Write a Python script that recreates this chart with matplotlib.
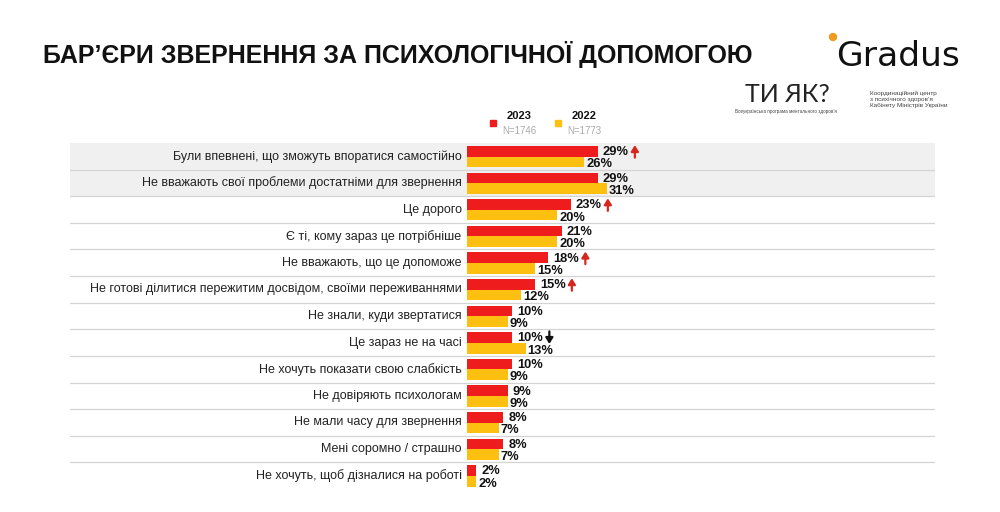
import matplotlib
matplotlib.use("Agg")
import matplotlib.pyplot as plt
from matplotlib.patches import Rectangle, Ellipse

plt.rcParams['font.family'] = ['Liberation Sans', 'DejaVu Sans']

categories = [
    "Були впевнені, що зможуть впоратися самостійно",
    "Не вважають свої проблеми достатніми для звернення",
    "Це дорого",
    "Є ті, кому зараз це потрібніше",
    "Не вважають, що це допоможе",
    "Не готові ділитися пережитим досвідом, своїми переживаннями",
    "Не знали, куди звертатися",
    "Це зараз не на часі",
    "Не хочуть показати свою слабкість",
    "Не довіряють психологам",
    "Не мали часу для звернення",
    "Мені соромно / страшно",
    "Не хочуть, щоб дізналися на роботі",
]
values_2023 = [29, 29, 23, 21, 18, 15, 10, 10, 10, 9, 8, 8, 2]
values_2022 = [26, 31, 20, 20, 15, 12, 9, 13, 9, 9, 7, 7, 2]
# change markers: 1 = significant increase, -1 = significant decrease, 0 = none
changes = [1, 0, 1, 0, 1, 1, 0, -1, 0, 0, 0, 0, 0]
series_labels = ["2023", "2022"]
series_n = ["N=1746", "N=1773"]

RED = "#ee1c1c"
YEL = "#fdc010"
W, H = 1000, 512

fig = plt.figure(figsize=(W / 100, H / 100), dpi=100)
fig.patch.set_facecolor("white")

def fx(px):
    return px / W

def fy(py):
    return 1 - py / H

# axes area: x 70..935 px, y 143..489 px ; 0% at x=467, 4.5 px per %
px_per = 4.5
left_px, right_px, zero_px = 70, 935, 467
top_px, bot_px = 143, 489
ax = fig.add_axes([fx(left_px), fy(bot_px), (right_px - left_px) / W, (bot_px - top_px) / H])
ax.set_xlim(-(zero_px - left_px) / px_per, (right_px - zero_px) / px_per)
n = len(categories)
ax.set_ylim(n - 0.5, -0.5)
ax.axis("off")

# gray band for first two rows
ax.axhspan(-0.5, 1.5, color="#f0f0f0", zorder=0, lw=0)
for i in range(n - 1):
    ax.axhline(i + 0.5, color="#d4d4d4", lw=0.9, zorder=1)

ys = list(range(n))
bh = 0.4
ax.barh([y - 0.19 for y in ys], values_2023, height=bh, color=RED, zorder=2)
ax.barh([y + 0.21 for y in ys], values_2022, height=bh, color=YEL, zorder=2)

for i, cat in enumerate(categories):
    ax.text(-1.2, i, cat, ha="right", va="center", fontsize=9, color="#222222")
    ax.text(values_2023[i] + 1.2, i - 0.16, f"{values_2023[i]}%", ha="left", va="center",
            fontsize=9.3, fontweight="bold", color="#111111")
    ax.text(values_2022[i] + 0.5, i + 0.3, f"{values_2022[i]}%", ha="left", va="center",
            fontsize=9.3, fontweight="bold", color="#111111")
    if changes[i] != 0:
        ax_x = values_2023[i] + 8.3
        col = "#d7261e" if changes[i] > 0 else "#111111"
        if changes[i] > 0:
            s, e = i + 0.05, i - 0.42
        else:
            s, e = i - 0.42, i + 0.05
        ax.annotate("", xy=(ax_x, e), xytext=(ax_x, s),
                    arrowprops=dict(arrowstyle="-|>,head_width=0.22,head_length=0.35",
                                    color=col, lw=1.6, shrinkA=0, shrinkB=0))

# legend
for k, (lab, nn, col, sx) in enumerate(zip(series_labels, series_n, [RED, YEL], [490, 555])):
    fig.patches.append(Rectangle((fx(sx), fy(126)), 6 / W, 6 / H, color=col,
                                 transform=fig.transFigure, figure=fig))
    fig.text(fx(sx + 29), fy(116), lab, ha="center", va="center", fontsize=8,
             fontweight="bold", color="#111111")
    fig.text(fx(sx + 29), fy(131), nn, ha="center", va="center", fontsize=7,
             color="#aaaaaa")

# title
fig.text(fx(43), fy(55), "БАР’ЄРИ ЗВЕРНЕННЯ ЗА ПСИХОЛОГІЧНОЇ ДОПОМОГОЮ", ha="left",
         va="center", fontsize=18, fontweight="bold", color="#111111")

# logos
fig.text(fx(836), fy(57), "Gradus", ha="left", va="center", fontsize=24.8,
         family=["DejaVu Sans"], color="#111111")
fig.patches.append(Ellipse((fx(833), fy(37)), 7 / W, 7 / H, color="#f29a1f",
                           transform=fig.transFigure, figure=fig))
fig.text(fx(745), fy(95), "ТИ ЯК?", ha="left", va="center", fontsize=18,
         family=["Lato", "DejaVu Sans"], color="#222222")
fig.text(fx(735), fy(111), "Всеукраїнська програма ментального здоров’я", ha="left",
         va="center", fontsize=3.3, color="#444444")
fig.text(fx(870), fy(99), "Координаційний центр\nз психічного здоров’я\nКабінету Міністрів України",
         ha="left", va="center", fontsize=4.6, color="#444444", linespacing=1.25)

fig.savefig("out.png", dpi=100)
